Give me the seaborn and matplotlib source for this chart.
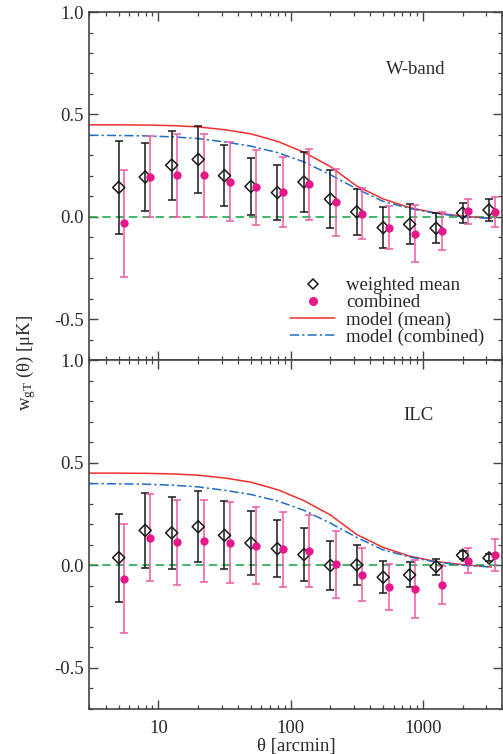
import numpy as np
import pandas as pd
import matplotlib
matplotlib.use("Agg")
import matplotlib.pyplot as plt
from matplotlib.lines import Line2D
from matplotlib.ticker import FixedLocator, NullFormatter, MultipleLocator, FixedFormatter
import seaborn as sns

# ---------------- data ----------------
theta_mean = [5.01, 7.94, 12.6, 20.0, 31.6, 50.1, 79.4, 126, 200, 316, 501, 794, 1259, 1995, 3162]
theta_comb = [5.53, 8.7, 13.9, 22.0, 34.8, 55.1, 87.0, 138.7, 219, 349, 556, 875, 1390, 2203, 3500]

w_mean = [0.143, 0.194, 0.252, 0.280, 0.201, 0.148, 0.118, 0.170, 0.086, 0.024, -0.053, -0.037, -0.056, 0.018, 0.033]
w_mean_err = [0.226, 0.165, 0.168, 0.163, 0.149, 0.141, 0.134, 0.145, 0.143, 0.114, 0.101, 0.098, 0.074, 0.048, 0.054]
w_comb = [-0.032, 0.196, 0.202, 0.202, 0.172, 0.143, 0.121, 0.159, 0.071, 0.015, -0.053, -0.083, -0.069, 0.026, 0.023]
w_comb_err = [0.261, 0.199, 0.204, 0.204, 0.193, 0.182, 0.170, 0.174, 0.163, 0.124, 0.106, 0.138, 0.092, 0.063, 0.073]

ilc_mean = [0.037, 0.170, 0.158, 0.188, 0.146, 0.109, 0.081, 0.052, -0.001, 0.002, -0.058, -0.047, -0.006, 0.049, 0.036]
ilc_mean_err = [0.215, 0.181, 0.177, 0.172, 0.166, 0.154, 0.140, 0.130, 0.120, 0.097, 0.077, 0.061, 0.039, 0.019, 0.017]
ilc_comb = [-0.066, 0.135, 0.112, 0.120, 0.109, 0.096, 0.078, 0.068, 0.005, -0.045, -0.105, -0.115, -0.094, 0.023, 0.049]
ilc_comb_err = [0.265, 0.210, 0.206, 0.199, 0.197, 0.187, 0.183, 0.176, 0.163, 0.128, 0.112, 0.140, 0.093, 0.062, 0.078]

theta_model = [3, 5, 8, 13, 20, 32, 50, 80, 126, 200, 316, 500, 800, 1260, 2000, 3300]
model_mean = [0.449, 0.449, 0.448, 0.445, 0.439, 0.425, 0.405, 0.368, 0.315, 0.245, 0.150, 0.087, 0.044, 0.018, 0.003, -0.008]
model_comb = [0.398, 0.397, 0.395, 0.390, 0.382, 0.365, 0.345, 0.313, 0.268, 0.205, 0.136, 0.075, 0.040, 0.016, 0.000, -0.008]

panel_labels = ["W-band", "ILC"]
legend_labels = ["weighted mean", "combined", "model (mean)", "model (combined)"]
xtick_vals = [10, 100, 1000]
xtick_labels = ["10", "100", "1000"]
ytick_vals = [-0.5, 0.0, 0.5, 1.0]
ytick_labels = ["-0.5", "0.0", "0.5", "1.0"]

# ---------------- style ----------------
sns.set_theme(style="ticks")
plt.rcParams['font.family'] = ['Liberation Serif', 'DejaVu Serif']
plt.rcParams['mathtext.fontset'] = 'custom'
plt.rcParams['mathtext.rm'] = 'Liberation Serif'
plt.rcParams['axes.unicode_minus'] = False

FS = 13.5
C_BLACK = '#1a1a1a'
C_PINK = '#e8178a'
C_PINK_ERR = '#ec5aa6'
C_RED = '#f0302e'
C_BLUE = '#1f6fc4'
C_GREEN = '#1faa50'
C_SPINE = '#444444'
C_TEXT = '#2a2a2a'

fig = plt.figure(figsize=(5.03, 7.54), dpi=100)
left, right = 0.1775, 0.999
ax_top = fig.add_axes([left, 0.5225, right - left, 0.984 - 0.5225])
ax_bot = fig.add_axes([left, 0.0597, right - left, 0.5225 - 0.0597])

panels = [
    (ax_top, w_mean, w_mean_err, w_comb, w_comb_err, panel_labels[0], (0.79, 0.835)),
    (ax_bot, ilc_mean, ilc_mean_err, ilc_comb, ilc_comb_err, panel_labels[1], (0.797, 0.84)),
]

for ax, ym, em, yc, ec, lab, lpos in panels:
    ax.set_xscale('log')
    ax.set_xlim(3, 4000)
    ax.set_ylim(-0.7, 1.0)
    ax.axhline(0.0, color=C_GREEN, lw=1.2, ls=(0, (5, 3)), zorder=1)
    dfm = pd.DataFrame({'theta': theta_model, 'mean': model_mean, 'comb': model_comb})
    sns.lineplot(data=dfm, x='theta', y='mean', ax=ax, color=C_RED, lw=1.1, zorder=2)
    sns.lineplot(data=dfm, x='theta', y='comb', ax=ax, color=C_BLUE, lw=1.1, zorder=2)
    ax.lines[-1].set_linestyle((0, (6, 2, 1.5, 2)))
    ax.errorbar(theta_mean, ym, yerr=em, fmt='none', ecolor=C_BLACK, elinewidth=1.1,
                capsize=3, capthick=1.1, zorder=3)
    ax.errorbar(theta_comb, yc, yerr=ec, fmt='none', ecolor=C_PINK_ERR, elinewidth=1.1,
                capsize=3, capthick=1.1, zorder=3)
    dfp = pd.DataFrame({'theta': theta_mean, 'y': ym})
    sns.scatterplot(data=dfp, x='theta', y='y', ax=ax, marker='D', s=38,
                    facecolor='none', edgecolor=C_BLACK, linewidth=1.1, zorder=4)
    dfc = pd.DataFrame({'theta': theta_comb, 'y': yc})
    sns.scatterplot(data=dfc, x='theta', y='y', ax=ax, marker='o', s=36,
                    color=C_PINK, edgecolor=C_PINK, linewidth=0, zorder=4)
    ax.text(lpos[0], lpos[1], lab, transform=ax.transAxes, ha='center', va='center',
            fontsize=FS, color=C_TEXT)

    ax.set_xlabel('')
    ax.set_ylabel('')
    ax.yaxis.set_major_locator(FixedLocator(ytick_vals))
    ax.yaxis.set_major_formatter(FixedFormatter(ytick_labels))
    ax.yaxis.set_minor_locator(MultipleLocator(0.1))
    ax.xaxis.set_major_locator(FixedLocator(xtick_vals))
    ax.xaxis.set_minor_locator(FixedLocator([k * 10 ** e for e in range(0, 4) for k in range(2, 10)]))
    ax.xaxis.set_minor_formatter(NullFormatter())
    ax.tick_params(which='both', direction='in', top=True, right=True, colors=C_SPINE,
                   labelcolor=C_TEXT, labelsize=FS)
    ax.tick_params(axis='y', which='both', pad=4)
    ax.tick_params(axis='x', which='both', pad=8)
    ax.tick_params(which='major', length=6.5, width=1.0)
    ax.tick_params(which='minor', length=3, width=0.9)
    for sp in ax.spines.values():
        sp.set_visible(True)
        sp.set_color(C_SPINE)
        sp.set_linewidth(1.2)

ax_top.xaxis.set_major_formatter(NullFormatter())
ax_bot.xaxis.set_major_formatter(FixedFormatter(xtick_labels))
ax_bot.set_xlabel('θ [arcmin]', fontsize=FS, color=C_TEXT, labelpad=1)

handles = [
    Line2D([], [], ls='none', marker='D', ms=5.5, mfc='none', mec=C_BLACK, mew=1.1),
    Line2D([], [], ls='none', marker='o', ms=5.5, mfc=C_PINK, mec=C_PINK),
    Line2D([], [], color=C_RED, lw=1.1),
    Line2D([], [], color=C_BLUE, lw=1.1, ls=(0, (6, 2, 1.5, 2))),
]
ax_top.legend(handles, legend_labels, loc='lower left', bbox_to_anchor=(0.452, 0.0),
              frameon=False, fontsize=FS, handlelength=2.4, handletextpad=0.6,
              labelspacing=0.0, borderpad=0.25)

fig.text(0.052, 0.519, r'$\mathregular{w_{gT}}$ (θ) [μK]', rotation=90, ha='center', va='center',
         fontsize=FS, color=C_TEXT)

fig.savefig('out.png', dpi=100)
